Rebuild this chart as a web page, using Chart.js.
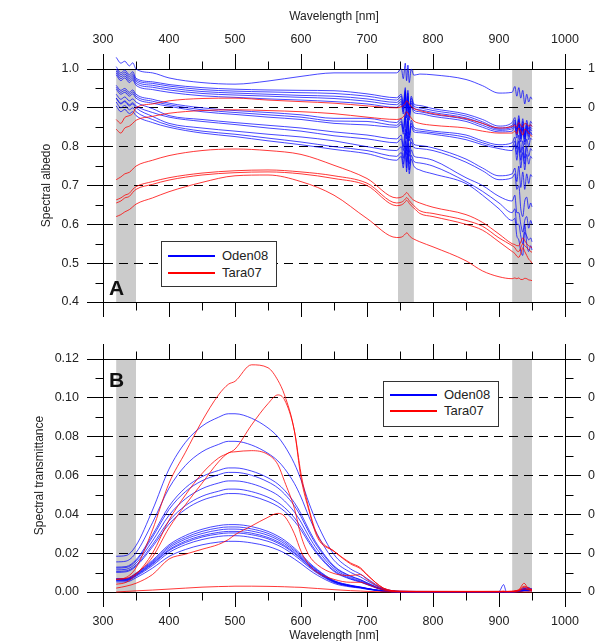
<!DOCTYPE html>
<html>
<head>
<meta charset="utf-8">
<title>Spectral albedo and transmittance</title>
<script src="https://cdn.jsdelivr.net/npm/chart.js@4.4.1/dist/chart.umd.min.js"></script>
<style>
    html, body { margin: 0; padding: 0; background: #fff; overflow: hidden; }
    #page { position: relative; width: 595px; height: 641px; overflow: hidden; }
    canvas { position: absolute; left: 0; }
    #albedoChart { top: 0; }
    #transChart { top: 320px; }
    .legend {
        position: absolute; width: 114px; height: 44px;
        border: 1px solid #333; background: #fff;
        font: 13px 'Liberation Sans', Arial, sans-serif; color: #222;
    }
    .legend .row { position: absolute; left: 6px; height: 16px; line-height: 16px; display: flex; align-items: center; }
    .legend .swatch { width: 47px; height: 1.5px; margin-right: 7px; }
    .tag { position: absolute; font: bold 21px 'Liberation Sans', Arial, sans-serif; line-height: 21px; color: #111; }
</style>
</head>
<body>
<div id="page">
    <canvas id="albedoChart" width="640" height="325"></canvas>
    <canvas id="transChart" width="640" height="330"></canvas>
    <div class="legend" id="legendA" style="left:161px; top:241px;"></div>
    <div class="legend" id="legendB" style="left:383px; top:381px;"></div>
    <div class="tag" style="left:109px; top:277px;">A</div>
    <div class="tag" style="left:109px; top:369px;">B</div>
</div>
<script>
(function () {
    'use strict';

    // wavelengths [nm]
    const wavelengthA = [320, 327, 333, 340, 345, 350, 375, 400, 450, 500, 550, 600, 650, 700,
        745, 752, 755, 758, 760, 762, 764, 767, 771, 780,
        800, 850, 875, 900, 920, 924, 927, 930, 933, 936, 939, 942, 945, 948, 950];
    const wavelengthB = [320, 335, 350, 375, 400, 425, 450, 475, 490, 500, 525, 550, 565, 575,
        590, 600, 612, 625, 650, 675, 690, 700, 725, 750, 800, 900, 907, 911, 915, 930, 938, 944, 950];

    const seriesNames = ['Oden08', 'Tara07'];
    const seriesColors = ['#0000ff', '#ff0000'];

    // shaded absorption bands [nm]
    const bandsA = [[320, 350], [747, 771], [920, 950]];
    const bandsB = [[320, 350], [920, 950]];

    // panel A, spectral albedo
    const odenAlbedo = [
        [1.03, 1.015, 1.02, 1.008, 1.016, 1.0, 0.99, 0.977, 0.965, 0.961, 0.969, 0.981, 0.99, 0.99,
            0.99, 1.0, 0.975, 1.015, 0.97, 1.01, 0.965, 1.0, 0.984, 0.987,
            0.985, 0.973, 0.957, 0.938, 0.94, 0.955, 0.93, 0.952, 0.925, 0.945, 0.91, 0.935, 0.915, 0.928, 0.922],
        [1.006, 0.99, 0.997, 0.985, 0.993, 0.976, 0.967, 0.96, 0.952, 0.948, 0.946, 0.945, 0.944, 0.936,
            0.926, 0.935, 0.91, 0.952, 0.9, 0.945, 0.895, 0.93, 0.91, 0.906,
            0.898, 0.884, 0.87, 0.853, 0.862, 0.875, 0.845, 0.88, 0.84, 0.872, 0.83, 0.868, 0.845, 0.865, 0.86],
        [1.0, 0.985, 0.992, 0.98, 0.987, 0.972, 0.963, 0.956, 0.947, 0.943, 0.941, 0.939, 0.937, 0.93,
            0.92, 0.93, 0.902, 0.945, 0.895, 0.938, 0.888, 0.925, 0.905, 0.9,
            0.893, 0.879, 0.864, 0.848, 0.855, 0.868, 0.84, 0.872, 0.832, 0.865, 0.825, 0.86, 0.838, 0.857, 0.852],
        [0.995, 0.98, 0.987, 0.975, 0.982, 0.968, 0.958, 0.951, 0.942, 0.938, 0.935, 0.932, 0.93, 0.923,
            0.914, 0.922, 0.897, 0.94, 0.888, 0.93, 0.882, 0.918, 0.9, 0.895,
            0.888, 0.874, 0.86, 0.845, 0.85, 0.862, 0.835, 0.868, 0.826, 0.858, 0.82, 0.855, 0.832, 0.85, 0.846],
        [0.99, 0.975, 0.982, 0.97, 0.977, 0.963, 0.953, 0.946, 0.937, 0.933, 0.93, 0.927, 0.924, 0.917,
            0.908, 0.916, 0.89, 0.935, 0.88, 0.925, 0.875, 0.912, 0.894, 0.89,
            0.883, 0.87, 0.855, 0.842, 0.846, 0.858, 0.83, 0.862, 0.82, 0.852, 0.812, 0.85, 0.826, 0.845, 0.84],
        [0.985, 0.97, 0.977, 0.965, 0.972, 0.958, 0.947, 0.94, 0.931, 0.927, 0.923, 0.92, 0.916, 0.91,
            0.901, 0.91, 0.884, 0.928, 0.874, 0.918, 0.868, 0.905, 0.888, 0.885,
            0.878, 0.865, 0.85, 0.838, 0.84, 0.852, 0.822, 0.858, 0.812, 0.845, 0.805, 0.845, 0.818, 0.838, 0.83],
        [0.958, 0.945, 0.95, 0.94, 0.946, 0.935, 0.922, 0.912, 0.9, 0.893, 0.888, 0.882, 0.873, 0.873,
            0.862, 0.872, 0.845, 0.89, 0.835, 0.882, 0.83, 0.868, 0.85, 0.845,
            0.84, 0.83, 0.815, 0.805, 0.81, 0.825, 0.795, 0.83, 0.785, 0.815, 0.77, 0.82, 0.8, 0.822, 0.818],
        [0.953, 0.94, 0.945, 0.935, 0.941, 0.93, 0.917, 0.908, 0.895, 0.888, 0.882, 0.876, 0.866, 0.865,
            0.855, 0.865, 0.838, 0.88, 0.828, 0.874, 0.822, 0.86, 0.844, 0.84,
            0.836, 0.824, 0.81, 0.8, 0.8, 0.815, 0.78, 0.815, 0.765, 0.8, 0.755, 0.8, 0.775, 0.795, 0.79],
        [0.948, 0.935, 0.94, 0.93, 0.936, 0.925, 0.912, 0.904, 0.89, 0.883, 0.876, 0.87, 0.86, 0.856,
            0.85, 0.858, 0.832, 0.875, 0.82, 0.866, 0.815, 0.853, 0.838, 0.836,
            0.832, 0.818, 0.805, 0.795, 0.79, 0.805, 0.765, 0.8, 0.745, 0.785, 0.74, 0.78, 0.755, 0.775, 0.77],
        [0.935, 0.922, 0.928, 0.918, 0.923, 0.915, 0.898, 0.88, 0.87, 0.862, 0.855, 0.848, 0.838, 0.83,
            0.82, 0.83, 0.8, 0.845, 0.79, 0.838, 0.785, 0.822, 0.806, 0.803,
            0.797, 0.768, 0.745, 0.725, 0.73, 0.745, 0.71, 0.75, 0.695, 0.735, 0.69, 0.73, 0.705, 0.728, 0.723],
        [0.925, 0.912, 0.918, 0.908, 0.913, 0.905, 0.888, 0.876, 0.865, 0.857, 0.848, 0.84, 0.828, 0.82,
            0.81, 0.82, 0.79, 0.835, 0.78, 0.828, 0.775, 0.812, 0.798, 0.795,
            0.79, 0.76, 0.738, 0.715, 0.72, 0.73, 0.69, 0.7, 0.64, 0.62, 0.66, 0.67, 0.64, 0.655, 0.645],
        [0.925, 0.91, 0.916, 0.905, 0.91, 0.9, 0.878, 0.86, 0.848, 0.84, 0.832, 0.825, 0.815, 0.8,
            0.79, 0.8, 0.77, 0.815, 0.76, 0.808, 0.755, 0.792, 0.776, 0.772,
            0.765, 0.72, 0.7, 0.672, 0.66, 0.675, 0.63, 0.63, 0.6, 0.58, 0.61, 0.62, 0.59, 0.61, 0.6],
        [0.915, 0.9, 0.906, 0.895, 0.9, 0.89, 0.87, 0.855, 0.84, 0.832, 0.822, 0.812, 0.8, 0.79,
            0.775, 0.785, 0.755, 0.8, 0.745, 0.792, 0.74, 0.778, 0.762, 0.758,
            0.75, 0.71, 0.685, 0.655, 0.63, 0.64, 0.6, 0.6, 0.57, 0.55, 0.58, 0.57, 0.56, 0.565, 0.555],
        [0.905, 0.89, 0.896, 0.885, 0.89, 0.88, 0.862, 0.85, 0.835, 0.826, 0.815, 0.805, 0.793, 0.782,
            0.765, 0.775, 0.745, 0.79, 0.735, 0.782, 0.73, 0.768, 0.75, 0.74,
            0.73, 0.705, 0.675, 0.64, 0.61, 0.615, 0.57, 0.56, 0.53, 0.52, 0.6, 0.55, 0.53, 0.545, 0.534]
    ];
    const taraAlbedo = [
        [0.87, 0.86, 0.875, 0.88, 0.885, 0.9, 0.91, 0.918, 0.924, 0.925, 0.92, 0.916, 0.912, 0.905,
            0.9, 0.903, 0.906, 0.912, 0.918, 0.915, 0.91, 0.903, 0.898, 0.893,
            0.885, 0.872, 0.86, 0.848, 0.852, 0.856, 0.85, 0.862, 0.855, 0.85, 0.86, 0.858, 0.853, 0.856, 0.852],
        [0.845, 0.835, 0.848, 0.853, 0.86, 0.868, 0.878, 0.886, 0.893, 0.895, 0.893, 0.89, 0.885, 0.876,
            0.87, 0.873, 0.877, 0.884, 0.89, 0.887, 0.881, 0.874, 0.866, 0.86,
            0.855, 0.848, 0.84, 0.835, 0.835, 0.84, 0.833, 0.848, 0.84, 0.83, 0.845, 0.842, 0.835, 0.83, 0.826],
        [0.715, 0.722, 0.73, 0.734, 0.742, 0.75, 0.765, 0.777, 0.79, 0.794, 0.79, 0.78, 0.752, 0.718,
            0.668, 0.67, 0.673, 0.678, 0.682, 0.679, 0.674, 0.668, 0.662, 0.655,
            0.644, 0.625, 0.605, 0.575, 0.55, 0.548, 0.545, 0.545, 0.555, 0.565, 0.558, 0.55, 0.545, 0.542, 0.54],
        [0.663, 0.668, 0.675, 0.68, 0.69, 0.697, 0.71, 0.72, 0.732, 0.738, 0.74, 0.735, 0.725, 0.706,
            0.655, 0.657, 0.66, 0.665, 0.669, 0.666, 0.661, 0.655, 0.648, 0.635,
            0.628, 0.61, 0.595, 0.565, 0.545, 0.54, 0.532, 0.53, 0.54, 0.55, 0.545, 0.54, 0.535, 0.53, 0.528],
        [0.655, 0.66, 0.668, 0.672, 0.682, 0.69, 0.703, 0.714, 0.727, 0.733, 0.735, 0.73, 0.718, 0.7,
            0.648, 0.65, 0.653, 0.658, 0.662, 0.659, 0.654, 0.648, 0.642, 0.628,
            0.62, 0.6, 0.585, 0.555, 0.53, 0.525, 0.518, 0.515, 0.525, 0.54, 0.53, 0.52, 0.51, 0.505, 0.5],
        [0.62, 0.625, 0.632, 0.638, 0.645, 0.652, 0.668, 0.684, 0.708, 0.725, 0.727, 0.71, 0.675, 0.615,
            0.566, 0.567, 0.57, 0.575, 0.578, 0.576, 0.571, 0.566, 0.562, 0.555,
            0.542, 0.506, 0.48, 0.465, 0.46, 0.462, 0.46, 0.462, 0.458, 0.458, 0.461, 0.46, 0.457, 0.456, 0.455]
    ];

    // panel B, spectral transmittance
    const odenTrans = [
        [.0184, .0188, .0239, .0422, .0633, .0771, .0854, .09, .0918, .0918, .0895, .0845, .0799, .0753, .0661, .0578, .0459, .0349, .0193, .0119, .0092, .0069, .0018, .0004, .0003, .0002, .0003, .0002, .0002, .0006, .0022, .001, .0018],
        [.0155, .0159, .0202, .0357, .0535, .0652, .0722, .076, .0776, .0776, .0757, .0714, .0675, .0636, .0559, .0489, .0388, .0295, .0163, .0101, .0078, .0058, .0016, .0003, .0002, .0002, .0002, .0002, .0002, .0005, .0015, .0008, .0012],
        [.0128, .0131, .0166, .0294, .0441, .0537, .0594, .0626, .0639, .0639, .0623, .0588, .0556, .0524, .046, .0403, .032, .0243, .0134, .0083, .0064, .0048, .0013, .0003, .0002, .0001, .0002, .0001, .0002, .0004, .0012, .0018, .001],
        [.0123, .0126, .016, .0283, .0425, .0517, .0573, .0604, .0616, .0616, .0601, .0567, .0536, .0505, .0444, .0388, .0308, .0234, .0129, .008, .0062, .0046, .0012, .0002, .0002, .0001, .0002, .0002, .0001, .0005, .001, .0014, .0008],
        [.0114, .0117, .0149, .0263, .0395, .048, .0532, .0561, .0572, .0572, .0558, .0526, .0498, .0469, .0412, .036, .0286, .0217, .012, .0074, .0057, .0043, .0011, .0002, .0002, .0002, .0002, .0001, .0002, .0004, .0018, .001, .0012],
        [.0106, .0109, .0138, .0244, .0366, .0445, .0493, .0519, .053, .053, .0517, .0488, .0461, .0435, .0382, .0334, .0265, .0201, .0111, .0069, .0053, .004, .0011, .0002, .0001, .0001, .0002, .0001, .0001, .0003, .0009, .0012, .0007],
        [.0101, .0104, .0132, .0233, .035, .0426, .0472, .0497, .0507, .0507, .0494, .0466, .0441, .0416, .0365, .0319, .0254, .0193, .0106, .0066, .0051, .0038, .001, .0002, .0001, .0001, .0001, .0001, .0001, .0003, .0011, .0008, .0009],
        [.0069, .0069, .0097, .0163, .0243, .0291, .0323, .0342, .0347, .0347, .0337, .0312, .0288, .0267, .0226, .0194, .0153, .0115, .0059, .0035, .0026, .0019, .0005, .0001, .0002, .0003, .0038, .0003, .0002, .0005, .0016, .0024, .0013],
        [.0067, .0067, .0094, .0157, .0235, .0281, .0312, .033, .0335, .0335, .0325, .0302, .0278, .0258, .0218, .0188, .0147, .0111, .0057, .0034, .0025, .0018, .0005, .0001, .0001, .0002, .0002, .0002, .0002, .0004, .0013, .0009, .0011],
        [.0065, .0065, .0091, .0152, .0227, .0272, .0301, .0319, .0324, .0324, .0314, .0292, .0269, .0249, .0211, .0181, .0143, .0107, .0055, .0032, .0024, .0018, .0005, .0001, .0001, .0001, .0002, .0001, .0001, .0004, .0008, .0015, .0006],
        [.0062, .0062, .0087, .0147, .0218, .0262, .029, .0307, .0312, .0312, .0303, .0281, .0259, .024, .0203, .0175, .0137, .0103, .0053, .0031, .0023, .0017, .0005, .0001, .0001, .0002, .0001, .0002, .0001, .0003, .0012, .0007, .001],
        [.0061, .0061, .0085, .0143, .0213, .0255, .0283, .0299, .0304, .0304, .0295, .0274, .0252, .0234, .0198, .017, .0134, .01, .0052, .003, .0023, .0017, .0005, .0001, .0001, .0001, .0002, .0001, .0001, .0003, .0009, .0011, .0005],
        [.0058, .0058, .0081, .0136, .0203, .0244, .027, .0286, .029, .029, .0281, .0261, .0241, .0223, .0189, .0162, .0128, .0096, .0049, .0029, .0022, .0016, .0004, .0001, .0001, .0001, .0001, .0001, .0001, .0002, .0007, .0009, .0008],
        [.0052, .0052, .0073, .0123, .0183, .0219, .0243, .0257, .0261, .0261, .0253, .0235, .0217, .0201, .017, .0146, .0115, .0086, .0044, .0026, .002, .0014, .0004, .0001, .0001, .0001, .0001, .0001, .0001, .0002, .0006, .0005, .0007]
    ];
    const taraTrans = [
        [.0065, .0075, .0125, .032, .056, .072, .088, .1015, .107, .1085, .117, .1155, .109, .1015, .083, .0588, .042, .028, .021, .015, .0125, .009, .002, .0004, .0003, .0003, .0004, .0003, .0003, .0012, .0045, .002, .0012],
        [.004, .005, .009, .02, .037, .05, .061, .069, .0716, .0736, .086, .097, .1015, .099, .083, .061, .043, .029, .021, .0145, .012, .0088, .002, .0004, .0003, .0003, .0003, .0003, .0003, .001, .003, .0022, .0012],
        [.0065, .007, .0095, .018, .033, .045, .056, .067, .0716, .0722, .0728, .0708, .0656, .057, .043, .029, .019, .014, .0095, .0085, .009, .0065, .0015, .0003, .0002, .0002, .0003, .0002, .0003, .0008, .0025, .0015, .0008],
        [.002, .003, .0045, .009, .017, .0195, .022, .0245, .027, .0295, .034, .0385, .0405, .039, .03, .021, .014, .01, .0065, .005, .005, .004, .001, .0002, .0002, .0002, .0002, .0002, .0002, .0006, .0015, .0012, .0006],
        [0, .0003, .0006, .001, .0015, .002, .0025, .0028, .0029, .003, .003, .0029, .0028, .0027, .0025, .0024, .0021, .0018, .0012, .0007, .0005, .0003, .0001, 0, 0, 0, 0, 0, 0, 0, 0, 0, 0]
    ];

    const fontFamily = "'Liberation Sans', Arial, Helvetica, sans-serif";
    Chart.defaults.font.family = fontFamily;
    Chart.defaults.font.size = 12.5;
    Chart.defaults.color = '#222';

    const lineColors = {
        Oden08: 'rgba(0, 0, 255, 0.72)',
        Tara07: 'rgba(255, 0, 0, 0.78)'
    };

    // grey bands behind everything
    const shadeBands = {
        id: 'shadeBands',
        beforeDraw(chart, args, opts) {
            const { ctx, chartArea: area, scales: { x } } = chart;
            ctx.save();
            ctx.fillStyle = '#cbcbcb';
            (opts.bands || []).forEach(([from, to]) => {
                const x1 = x.getPixelForValue(from);
                const x2 = x.getPixelForValue(to);
                ctx.fillRect(x1, area.top, x2 - x1, area.bottom - area.top);
            });
            ctx.restore();
        }
    };

    // short ticks half way between the labelled ones
    const minorTicks = {
        id: 'minorTicks',
        afterDraw(chart) {
            const { ctx, chartArea: area } = chart;
            const top = Math.round(area.top) + 0.5;
            const bottom = Math.round(area.bottom) + 0.5;
            const left = Math.round(area.left) + 0.5;
            const right = Math.round(area.right) + 0.5;
            ctx.save();
            ctx.strokeStyle = '#000';
            ctx.lineWidth = 1;
            Object.values(chart.scales).forEach((scale) => {
                const ticks = scale.ticks;
                for (let i = 1; i < ticks.length; i++) {
                    const p = Math.round(scale.getPixelForValue((ticks[i - 1].value + ticks[i].value) / 2)) + 0.5;
                    ctx.beginPath();
                    if (scale.position === 'top') { ctx.moveTo(p, top); ctx.lineTo(p, top - 8); }
                    else if (scale.position === 'bottom') { ctx.moveTo(p, bottom); ctx.lineTo(p, bottom + 8); }
                    else if (scale.position === 'left') { ctx.moveTo(left, p); ctx.lineTo(left - 8, p); }
                    else { ctx.moveTo(right, p); ctx.lineTo(right + 8, p); }
                    ctx.stroke();
                }
            });
            ctx.restore();
        }
    };

    function lineSet(wavelengths, values, name) {
        if (values.length !== wavelengths.length) {
            throw new Error('series length ' + values.length + ' != ' + wavelengths.length);
        }
        return {
            label: name,
            data: wavelengths.map((x, i) => ({ x, y: values[i] })),
            xAxisID: 'x',
            yAxisID: 'y',
            borderColor: lineColors[name],
            borderWidth: 1,
            pointRadius: 0,
            cubicInterpolationMode: 'monotone',
            fill: false,
            clip: false
        };
    }

    function wavelengthAxis(position, size, title) {
        return {
            type: 'linear',
            position,
            min: 300,
            max: 1000,
            afterFit: (scale) => { scale.height = size; },
            ticks: {
                stepSize: 100,
                display: !!title,
                padding: 7,
                maxRotation: 0,
                autoSkip: false,
                callback: (v) => String(v)
            },
            grid: { drawOnChartArea: false, tickLength: 15, tickColor: '#000', color: '#000', lineWidth: 1 },
            border: { color: '#000', width: 1 },
            title: title ? {
                display: true,
                text: 'Wavelength [nm]',
                color: '#222',
                font: { size: 12 },
                padding: title
            } : { display: false }
        };
    }

    function valueAxis(position, min, max, step, digits, size, title, titlePad) {
        return {
            type: 'linear',
            position,
            min,
            max,
            afterFit: (scale) => { scale.width = size; },
            ticks: { stepSize: step, padding: position === 'left' ? 8 : 7, callback: (v) => v.toFixed(digits) },
            grid: {
                drawOnChartArea: position === 'left',
                color: (c) => (c.tick && c.tick.value > min + 1e-9 && c.tick.value < max - 1e-9) ? '#000' : 'rgba(0,0,0,0)',
                tickColor: '#000',
                tickLength: 16,
                lineWidth: 1
            },
            border: { color: '#000', width: 1, dash: [9, 6] },
            title: title ? {
                display: true,
                text: title,
                color: '#222',
                font: { size: 12 },
                padding: { top: titlePad, bottom: 0 }
            } : { display: false }
        };
    }

    function baseOptions(bands, scales) {
        return {
            responsive: false,
            animation: false,
            events: [],
            layout: { padding: 0 },
            plugins: {
                legend: { display: false },
                tooltip: { enabled: false },
                shadeBands: { bands }
            },
            scales
        };
    }

    new Chart(document.getElementById('albedoChart'), {
        type: 'line',
        data: {
            datasets: [
                ...taraAlbedo.map((v) => lineSet(wavelengthA, v, 'Tara07')),
                ...odenAlbedo.map((v) => lineSet(wavelengthA, v, 'Oden08'))
            ]
        },
        options: baseOptions(bandsA, {
            x: wavelengthAxis('bottom', 23),
            x2: wavelengthAxis('top', 69, { top: 9, bottom: 0 }),
            y: valueAxis('left', 0.4, 1.0, 0.1, 1, 103, 'Spectral albedo', 39),
            y2: valueAxis('right', 0.4, 1.0, 0.1, 1, 75)
        }),
        plugins: [shadeBands, minorTicks]
    });

    new Chart(document.getElementById('transChart'), {
        type: 'line',
        data: {
            datasets: [
                ...taraTrans.map((v) => lineSet(wavelengthB, v, 'Tara07')),
                ...odenTrans.map((v) => lineSet(wavelengthB, v, 'Oden08'))
            ]
        },
        options: baseOptions(bandsB, {
            x: wavelengthAxis('bottom', 58, { top: 0, bottom: 7 }),
            x2: wavelengthAxis('top', 39),
            y: valueAxis('left', 0, 0.12, 0.02, 2, 103, 'Spectral transmittance', 32),
            y2: valueAxis('right', 0, 0.12, 0.02, 2, 75)
        }),
        plugins: [shadeBands, minorTicks]
    });

    function buildLegend(id, rowTops) {
        const box = document.getElementById(id);
        seriesNames.forEach((name, i) => {
            const row = document.createElement('div');
            row.className = 'row';
            row.style.top = rowTops[i] + 'px';
            const swatch = document.createElement('span');
            swatch.className = 'swatch';
            swatch.style.background = seriesColors[i];
            const label = document.createElement('span');
            label.textContent = name;
            row.appendChild(swatch);
            row.appendChild(label);
            box.appendChild(row);
        });
    }

    buildLegend('legendA', [6, 23]);
    buildLegend('legendB', [5, 21]);
})();
</script>
</body>
</html>
